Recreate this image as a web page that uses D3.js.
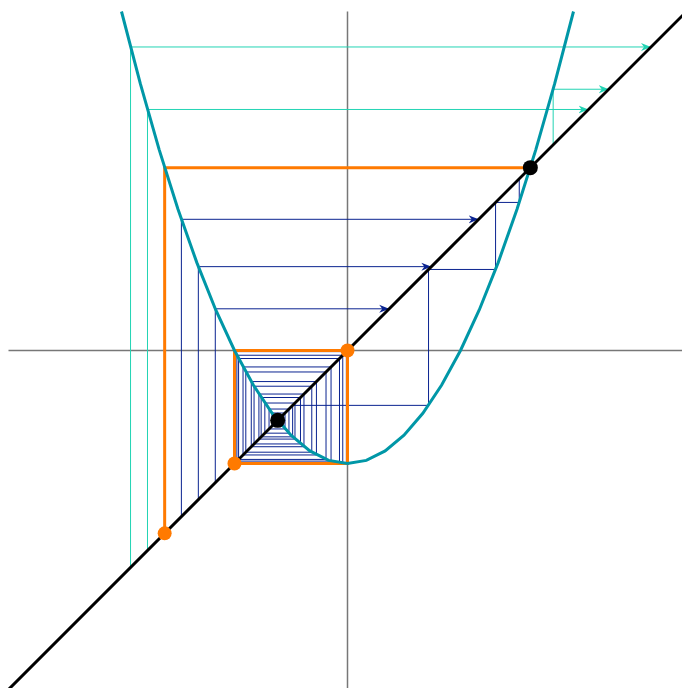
<!DOCTYPE html>
<html>
  <head>
    <script src="https://d3js.org/d3.v7.min.js" charset="utf-8"></script>
    <meta charset="UTF-8">
    <title>cobweb x^2 - 1</title>
    <style>
     body { margin: 0; background: #fff; }
     svg { display: block; }
    </style>
  </head>
  <body>
    <svg class="chart"></svg>
    <script type="text/javascript">

     var width = 682,
         height = 688;

     // parabola f(x) = x^2 - 1, sampled every 1/6
     var parabolaX = [-2, -1.8333, -1.6667, -1.5, -1.3333, -1.1667, -1, -0.8333, -0.6667, -0.5,
                      -0.3333, -0.1667, 0, 0.1667, 0.3333, 0.5, 0.6667, 0.8333, 1, 1.1667,
                      1.3333, 1.5, 1.6667, 1.8333, 2];
     var parabolaY = [3, 2.3611, 1.7778, 1.25, 0.7778, 0.3611, 0, -0.3056, -0.5556, -0.75,
                      -0.8889, -0.9722, -1, -0.9722, -0.8889, -0.75, -0.5556, -0.3056, 0, 0.3611,
                      0.7778, 1.25, 1.7778, 2.3611, 3];

     var diagonal = [-3, 3];

     // orbits that leave the picture (one step, arrow)
     var escapeOrbits = [
         [-1.92, 2.686],
         [-1.77, 2.133],
         [1.82, 2.312]
     ];

     // first steps of orbits falling into the 2-cycle (arrow)
     var stepOrbits = [
         [-1.47, 1.161],
         [-1.32, 0.742],
         [-1.17, 0.369]
     ];

     // longer orbits ending on the 2-cycle
     var longOrbits = [
         [1.52, 1.3104, 0.7172, -0.4856, -0.7642, -0.416, -0.8269, -0.3162, -0.9, -0.19,
          -0.9639, -0.0709, -0.995, -0.01, -0.9999, -0.0002],
         [-0.6, -0.64, -0.5904, -0.6514, -0.5757, -0.6686, -0.553, -0.6942, -0.5181, -0.7316,
          -0.4648, -0.784, -0.3853, -0.8515, -0.2749, -0.9244, -0.1455, -0.9788, -0.0419,
          -0.9982, -0.0036, -1]
     ];

     var orangeOrbits = [
         [-1.618, 1.618],
         [0, -1, 0]
     ];

     var fixedPoints = [-0.618, 1.618];
     var orangePoints = [0, -1, -1.618];

     var x = d3.scaleLinear().domain([-3, 3]).range([8.5, 686.5]);
     var y = d3.scaleLinear().domain([-3, 3]).range([689.5, 11.5]);

     var chart = d3.select(".chart")
                   .attr("width", width)
                   .attr("height", height);

     var defs = chart.append("defs");
     function marker(id, color) {
         defs.append("marker")
             .attr("id", id)
             .attr("viewBox", "0 -5 10 10")
             .attr("refX", 10)
             .attr("refY", 0)
             .attr("markerUnits", "userSpaceOnUse")
             .attr("markerWidth", 10)
             .attr("markerHeight", 10)
             .attr("orient", "auto")
             .append("path")
             .attr("d", "M0,-4L10,0L0,4L3,0Z")
             .attr("fill", color);
     }
     marker("arrow-cyan", "#22d4b4");
     marker("arrow-blue", "#0a2390");

     function cobweb(v) {
         var pts = [[v[0], v[0]]];
         for (var i = 0; i < v.length - 1; i++) {
             pts.push([v[i], v[i + 1]]);
             pts.push([v[i + 1], v[i + 1]]);
         }
         return d3.line()
                  .x(function(d) { return x(d[0]); })
                  .y(function(d) { return y(d[1]); })(pts);
     }

     // axes
     chart.append("line")
          .attr("x1", x(-3)).attr("x2", x(3))
          .attr("y1", y(0)).attr("y2", y(0))
          .attr("stroke", "#777").attr("stroke-width", 1.5);
     chart.append("line")
          .attr("x1", x(0)).attr("x2", x(0))
          .attr("y1", y(-3)).attr("y2", y(3))
          .attr("stroke", "#777").attr("stroke-width", 1.5);

     chart.append("g").selectAll("path")
          .data(longOrbits)
          .enter().append("path")
          .attr("d", cobweb)
          .attr("fill", "none")
          .attr("stroke", "#0a2390")
          .attr("stroke-width", 1);

     chart.append("g").selectAll("path")
          .data(stepOrbits)
          .enter().append("path")
          .attr("d", cobweb)
          .attr("fill", "none")
          .attr("stroke", "#0a2390")
          .attr("stroke-width", 1)
          .attr("marker-end", "url(#arrow-blue)");

     chart.append("g").selectAll("path")
          .data(escapeOrbits)
          .enter().append("path")
          .attr("d", cobweb)
          .attr("fill", "none")
          .attr("stroke", "#22d4b4")
          .attr("stroke-width", 1)
          .attr("marker-end", "url(#arrow-cyan)");

     chart.append("g").selectAll("path")
          .data(orangeOrbits)
          .enter().append("path")
          .attr("d", cobweb)
          .attr("fill", "none")
          .attr("stroke", "#ff7a00")
          .attr("stroke-width", 3);

     chart.append("path")
          .datum(d3.zip(parabolaX, parabolaY))
          .attr("d", d3.line()
                       .x(function(d) { return x(d[0]); })
                       .y(function(d) { return y(d[1]); }))
          .attr("fill", "none")
          .attr("stroke", "#0097a7")
          .attr("stroke-width", 3);

     chart.append("line")
          .attr("x1", x(diagonal[0])).attr("y1", y(diagonal[0]))
          .attr("x2", x(diagonal[1])).attr("y2", y(diagonal[1]))
          .attr("stroke", "#000").attr("stroke-width", 3);

     chart.append("g").selectAll("circle")
          .data(orangePoints)
          .enter().append("circle")
          .attr("cx", function(d) { return x(d); })
          .attr("cy", function(d) { return y(d); })
          .attr("r", 7)
          .attr("fill", "#ff7a00");

     chart.append("g").selectAll("circle")
          .data(fixedPoints)
          .enter().append("circle")
          .attr("cx", function(d) { return x(d); })
          .attr("cy", function(d) { return y(d); })
          .attr("r", 7.5)
          .attr("fill", "#000");

    </script>
  </body>
</html>
